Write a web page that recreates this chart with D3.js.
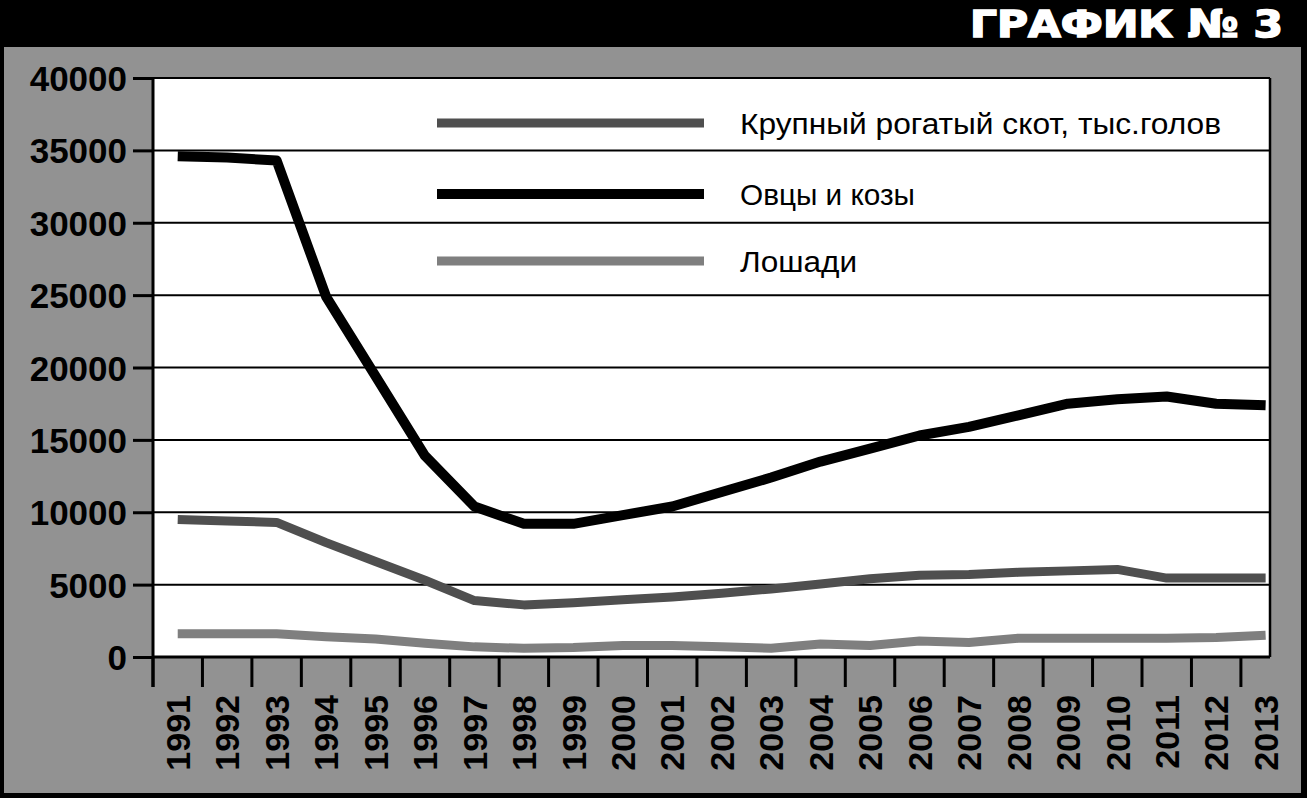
<!DOCTYPE html>
<html>
<head>
<meta charset="utf-8">
<script src="https://cdn.jsdelivr.net/npm/d3@7"></script>
<style>
  html, body { margin: 0; padding: 0; background: #000; }
  svg { display: block; }
</style>
</head>
<body>
<svg id="chart" width="1307" height="798"></svg>
<script>
const years = ["1991","1992","1993","1994","1995","1996","1997","1998","1999","2000","2001","2002",
               "2003","2004","2005","2006","2007","2008","2009","2010","2011","2012","2013"];
const sheepGoats = [34600,34500,34300,24900,19400,13900,10400,9200,9200,9800,10400,11400,
                    12400,13500,14400,15300,15900,16700,17500,17800,18000,17500,17400];
const cattle = [9500,9400,9300,7900,6600,5300,3900,3600,3750,3950,4150,4400,
                4700,5050,5400,5650,5700,5850,5950,6050,5450,5450,5450];
const horses = [1600,1600,1600,1400,1250,950,700,600,650,800,800,700,
                600,900,800,1100,1000,1300,1300,1300,1300,1350,1500];
const yTicks = [0,5000,10000,15000,20000,25000,30000,35000,40000];
const seriesNames = ["Крупный рогатый скот, тыс.голов", "Овцы и козы", "Лошади"];
const titleText = "ГРАФИК № 3";

(function () {
const series = [
  {name: seriesNames[0], values: cattle, color: "#4f4f4f", width: 9},
  {name: seriesNames[1], values: sheepGoats, color: "#000000", width: 10},
  {name: seriesNames[2], values: horses, color: "#7f7f7f", width: 9}
];

const svg = d3.select("#chart");
const W = 1307, H = 798;

// frame
svg.append("rect").attr("x",0).attr("y",0).attr("width",W).attr("height",H).attr("fill","#000");
svg.append("rect").attr("x",4).attr("y",47).attr("width",1297).attr("height",746).attr("fill","#929292");

// title
svg.append("text")
  .attr("x", 1283).attr("y", 37)
  .attr("text-anchor","end")
  .attr("font-family","DejaVu Sans")
  .attr("font-weight","bold")
  .attr("font-size", 38)
  .attr("fill","#fff")
  .attr("stroke","#fff").attr("stroke-width",1.6)
  .attr("textLength", 313).attr("lengthAdjust","spacingAndGlyphs")
  .text(titleText);

const pL = 153, pR = 1270, pT = 78, pB = 657;
const x = d3.scaleBand().domain(years).range([pL, pL + 23 * 49.45]);
const bw = x.bandwidth();
const y = d3.scaleLinear().domain([0, 40000]).range([pB, pT]);

// plot area
svg.append("rect").attr("x",pL).attr("y",pT).attr("width",pR-pL).attr("height",pB-pT).attr("fill","#fff");

// gridlines
svg.append("g").selectAll("line").data(yTicks).join("line")
  .attr("x1", pL).attr("x2", pR)
  .attr("y1", d => y(d)).attr("y2", d => y(d))
  .attr("stroke","#000").attr("stroke-width", d => d === 0 ? 3 : 2);

// right border
svg.append("line").attr("x1",pR).attr("x2",pR).attr("y1",pT).attr("y2",pB)
  .attr("stroke","#000").attr("stroke-width",2.5);

// y axis
const yAxis = d3.axisLeft(y).tickValues(yTicks).tickSize(20).tickPadding(6).tickFormat(d => String(d));
const gy = svg.append("g").attr("transform",`translate(${pL},0)`).call(yAxis);
gy.select(".domain").remove();
gy.selectAll(".tick line").attr("stroke","#000").attr("stroke-width",3);
gy.selectAll(".tick text")
  .attr("font-family","Liberation Sans, Arial, sans-serif")
  .attr("font-weight","bold").attr("font-size",35).attr("fill","#000")
  .attr("dy","0.36em");

// y axis line (extends down to tick length)
svg.append("line").attr("x1",pL).attr("x2",pL).attr("y1",pT).attr("y2",687)
  .attr("stroke","#000").attr("stroke-width",3);

// x ticks at band boundaries
svg.append("g").selectAll("line").data(years).join("line")
  .attr("x1", d => x(d)).attr("x2", d => x(d))
  .attr("y1", pB).attr("y2", 687)
  .attr("stroke","#000").attr("stroke-width",3);

// x labels
svg.append("g").selectAll("text").data(years).join("text")
  .attr("transform", d => `translate(${x(d) + bw/2},695) rotate(-90)`)
  .attr("text-anchor","end")
  .attr("dy","0.36em")
  .attr("font-family","Liberation Sans, Arial, sans-serif")
  .attr("font-weight","bold").attr("font-size",34).attr("fill","#000")
  .text(d => d);

// lines
const line = d3.line()
  .x((d,i) => x(years[i]) + bw/2)
  .y(d => y(d));

svg.append("g").selectAll("path").data(series).join("path")
  .attr("d", s => line(s.values))
  .attr("fill","none")
  .attr("stroke", s => s.color)
  .attr("stroke-width", s => s.width)
  .attr("stroke-linejoin","round")
  .attr("stroke-linecap","butt");

// legend
const legendY = [123, 194, 261];
const legendLen = [481, 175, 117];
const lg = svg.append("g");
series.forEach((s, i) => {
  lg.append("line").attr("x1",437).attr("x2",704)
    .attr("y1",legendY[i]).attr("y2",legendY[i])
    .attr("stroke", s.color).attr("stroke-width", s.width);
  lg.append("text")
    .attr("x", 740).attr("y", legendY[i] + 10.5)
    .attr("font-family","Liberation Sans, Arial, sans-serif")
    .attr("font-size", 30).attr("fill","#000")
    .attr("textLength", legendLen[i]).attr("lengthAdjust","spacingAndGlyphs")
    .text(s.name);
});
})();
</script>
</body>
</html>
